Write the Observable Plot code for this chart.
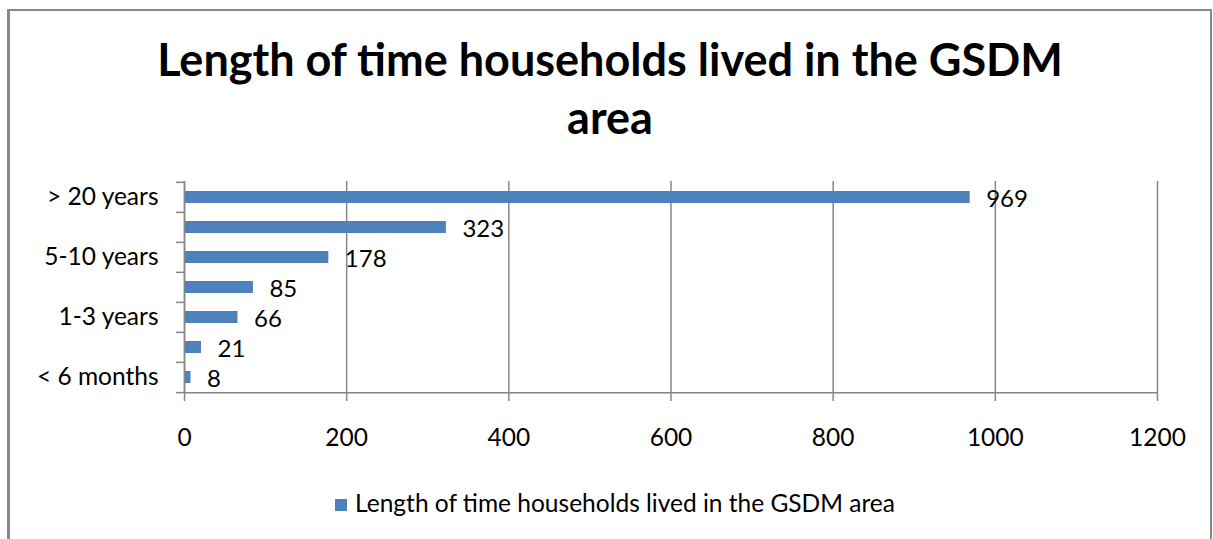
<!DOCTYPE html>
<html>
<head>
<meta charset="utf-8">
<script src="https://cdn.jsdelivr.net/npm/d3@7"></script>
<script src="https://cdn.jsdelivr.net/npm/@observablehq/plot@0.6"></script>
<style>
  html, body { margin: 0; padding: 0; background: #fff; }
  #chart { position: relative; width: 1213px; height: 539px; overflow: hidden; font-family: Lato, "Open Sans", sans-serif; color: #000; }
  #frame { position: absolute; left: 7px; top: 9px; width: 1200px; height: 600px;
           border-left: 3px solid #888; border-top: 2px solid #888; border-right: 2px solid #888; }
  #title { position: absolute; left: 140px; width: 940px; top: 30px; text-align: center;
           font-weight: bold; font-size: 45px; line-height: 58px; }
  #plot { position: absolute; left: 0; top: 170px; }
  #legend { position: absolute; top: 488px; left: 0; width: 1230px; text-align: center; font-size: 24.5px; line-height: 30px; }
  #legend .swatch { display: inline-block; width: 12px; height: 12px; background: #4F81BD; margin-right: 8px; vertical-align: 1px; }
</style>
</head>
<body>
<div id="chart">
  <div id="frame"></div>
  <div id="title"></div>
  <div id="plot"></div>
  <div id="legend"></div>
</div>
<script>
const title = "Length of time households lived in the GSDM area";
const seriesName = "Length of time households lived in the GSDM area";

// Residence duration categories, longest first (top of the chart)
const categories = ["> 20 years", "10-20 years", "5-10 years", "3-5 years", "1-3 years", "6 months-1 year", "< 6 months"];
// Only every other category carries a visible label on the axis
const shownLabels = ["> 20 years", "5-10 years", "1-3 years", "< 6 months"];
// Number of households per category
const households = [969, 323, 178, 85, 66, 21, 8];
// Value-axis ticks
const xTicks = [0, 200, 400, 600, 800, 1000, 1200];

const data = categories.map((c, i) => ({category: c, value: households[i]}));

const width = 1213, height = 290;
const marginTop = 11, marginBottom = 67, marginLeft = 184, marginRight = 56;
const step = (height - marginTop - marginBottom) / categories.length;
const gray = "#868686";
const barColor = "#4F81BD";

document.getElementById("title").textContent = title;
document.getElementById("legend").innerHTML =
  '<span class="swatch"></span><span></span>';
document.querySelector("#legend span:last-child").textContent = seriesName;

const chart = Plot.plot({
  width, height, marginTop, marginBottom, marginLeft, marginRight,
  style: {fontFamily: "Lato, 'Open Sans', sans-serif", fontSize: "24.5px", color: "#000", background: "transparent", overflow: "visible"},
  x: {domain: [0, 1200], label: null},
  y: {domain: categories, padding: 0, label: null},
  marks: [
    // vertical gridlines
    Plot.gridX({ticks: xTicks, stroke: gray, strokeOpacity: 1, strokeWidth: 1.5}),
    // bars
    Plot.barX(data, {x: "value", y: "category", fill: barColor, insetTop: 9, insetBottom: 9}),
    // left axis line and bottom axis line
    Plot.ruleX([0], {stroke: gray, strokeWidth: 1.5}),
    Plot.ruleY([categories[categories.length - 1]], {stroke: gray, strokeWidth: 1.5, dy: step / 2}),
    // category boundary tick marks
    Plot.axisY({ticks: categories, tickSize: 8, tickFormat: () => "", label: null, stroke: gray, strokeWidth: 1.5, dy: -step / 2}),
    Plot.axisY({ticks: [categories[categories.length - 1]], tickSize: 8, tickFormat: () => "", label: null, stroke: gray, strokeWidth: 1.5, dy: step / 2}),
    // category labels (alternate)
    Plot.axisY({ticks: categories, tickSize: 0, tickPadding: 26, fill: "#000", label: null,
                tickFormat: d => shownLabels.includes(d) ? d : ""}),
    // value axis
    Plot.axisX({ticks: xTicks, tickSize: 8, tickPadding: 27, stroke: gray, strokeWidth: 1.5, fill: "#000",
                label: null, tickFormat: d => String(d)}),
    // value labels
    Plot.text(data, {x: "value", y: "category", text: d => String(d.value), dx: 16, dy: 2, textAnchor: "start", fill: "#000", fontSize: 24})
  ]
});
document.getElementById("plot").appendChild(chart);
</script>
</body>
</html>
